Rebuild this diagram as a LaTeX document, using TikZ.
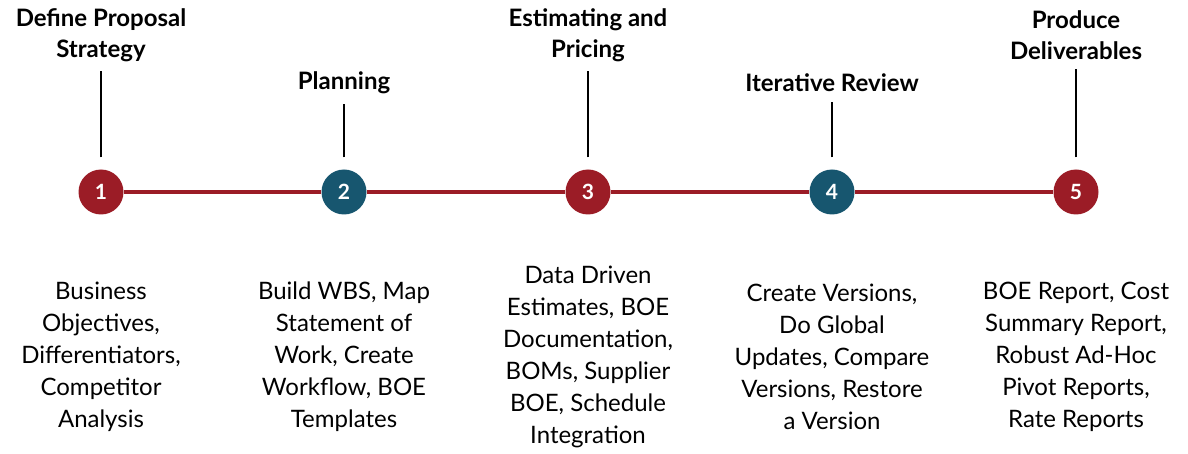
\documentclass[tikz,border=0pt]{standalone}
\usepackage{fontspec}
\setmainfont{Lato}
\usetikzlibrary{positioning}
\definecolor{stepred}{HTML}{9B1C26}
\definecolor{stepteal}{HTML}{17566F}

\begin{document}
\begin{tikzpicture}[x=1pt,y=-1pt,
        num/.style={circle,minimum size=45pt,inner sep=0pt,text=white,
            font=\bfseries\fontsize{21}{21}\selectfont},
        title/.style={align=center,font=\bfseries\fontsize{24}{31}\selectfont},
        body/.style={align=center,font=\fontsize{24}{32}\selectfont},
        stem/.style={line width=2pt,shorten <=12pt,shorten >=6pt}]
    \useasboundingbox (0,0) rectangle (1188,454);
    % milestones
    \node[num,fill=stepred]  (c_1) at (101,192) {1};
    \node[num,fill=stepteal] (c_2) at (344,192) {2};
    \node[num,fill=stepred]  (c_3) at (588,192) {3};
    \node[num,fill=stepteal] (c_4) at (832,192) {4};
    \node[num,fill=stepred]  (c_5) at (1076,192) {5};
    \draw[stepred,line width=4pt] (c_1) -- (c_2) -- (c_3) -- (c_4) -- (c_5);
    % titles
    \node[title] (t_1) at (101,35) {Define Proposal\\Strategy};
    \node[title] (t_2) at (344,83) {Planning};
    \node[title] (t_3) at (588,35) {Estimating and\\Pricing};
    \node[title] (t_4) at (832,83) {Iterative Review};
    \node[title] (t_5) at (1076,35) {Produce\\Deliverables};
    \path[stem] (c_1) edge (t_1) (c_2) edge (t_2) (c_3) edge (t_3)
        (c_4) edge (t_4) (c_5) edge (t_5);
    % descriptions
    \node[body] (d_1) at (101,357) {Business\\Objectives,\\Differentiators,\\Competitor\\Analysis};
    \node[body] (d_2) at (344,357) {Build WBS, Map\\Statement of\\Work, Create\\Workflow, BOE\\Templates};
    \node[body] (d_3) at (588,357) {Data Driven\\Estimates, BOE\\Documentation,\\BOMs, Supplier\\BOE, Schedule\\Integration};
    \node[body] (d_4) at (832,357) {Create Versions,\\Do Global\\Updates, Compare\\Versions, Restore\\a Version};
    \node[body] (d_5) at (1076,357) {BOE Report, Cost\\Summary Report,\\Robust Ad-Hoc\\Pivot Reports,\\Rate Reports};
\end{tikzpicture}
\end{document}
